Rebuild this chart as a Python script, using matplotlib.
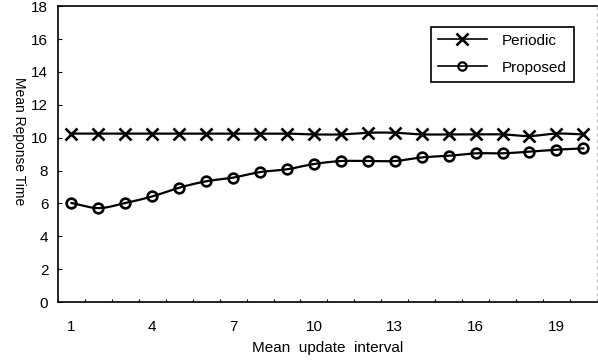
""" Mean response time versus mean update interval
"""
import matplotlib
matplotlib.use("Agg")
import matplotlib.pyplot as plt
from matplotlib.lines import Line2D
import numpy as np

plt.rcParams["font.family"] = ["Liberation Sans", "DejaVu Sans"]

update_interval = list(range(1, 21))
periodic = [10.25, 10.25, 10.25, 10.25, 10.25, 10.25, 10.25, 10.25, 10.25, 10.2,
            10.2, 10.3, 10.3, 10.2, 10.2, 10.2, 10.2, 10.1, 10.25, 10.2]
proposed = [6.03, 5.72, 6.03, 6.43, 6.96, 7.35, 7.57, 7.91, 8.08, 8.4,
            8.58, 8.58, 8.58, 8.8, 8.9, 9.05, 9.05, 9.15, 9.27, 9.35]
x_ticks = [1, 4, 7, 10, 13, 16, 19]
y_ticks = list(range(0, 19, 2))


def smooth(x, y, n=20):
	""" Courbe lissée (Catmull-Rom) passant par les points
	"""
	x = np.asarray(x, dtype=float)
	y = np.asarray(y, dtype=float)
	px = np.concatenate([[2 * x[0] - x[1]], x, [2 * x[-1] - x[-2]]])
	py = np.concatenate([[2 * y[0] - y[1]], y, [2 * y[-1] - y[-2]]])
	t = np.linspace(0, 1, n, endpoint=False)
	xs, ys = [], []
	for i in range(1, len(px) - 2):
		for p, out in ((px, xs), (py, ys)):
			p0, p1, p2, p3 = p[i - 1], p[i], p[i + 1], p[i + 2]
			out.extend(0.5 * (2 * p1 + (-p0 + p2) * t
							+ (2 * p0 - 5 * p1 + 4 * p2 - p3) * t ** 2
							+ (-p0 + 3 * p1 - 3 * p2 + p3) * t ** 3))
	xs.append(x[-1])
	ys.append(y[-1])
	return np.array(xs), np.array(ys)


fig = plt.figure(figsize=(5.98, 3.61), dpi=100)
ax = fig.add_axes([0.097, 0.163, 0.901, 0.82])

for values, marker in ((periodic, "x"), (proposed, "o")):
	sx, sy = smooth(update_interval, values)
	ax.plot(sx, sy, color="black", linewidth=1.6)
	ax.plot(update_interval, values, linestyle="none", marker=marker,
			markersize=9 if marker == "x" else 7, markeredgewidth=1.9,
			markerfacecolor="none", markeredgecolor="black")

ax.set_xlim(0.5, 20.45)
ax.set_ylim(0, 18)
ax.set_xticks(x_ticks)
ax.set_xticks(np.arange(0.5, 21, 1), minor=True)
ax.set_yticks(y_ticks)
ax.tick_params(axis="x", which="major", length=0, pad=13, labelsize=11)
ax.tick_params(axis="x", which="minor", direction="in", length=2.5, width=0.8)
ax.tick_params(axis="y", direction="in", length=3, width=0.8, pad=7, labelsize=11)

for side in ("left", "bottom", "top"):
	ax.spines[side].set_linewidth(1.2)
ax.spines["right"].set_color("#bbbbbb")
ax.spines["right"].set_linestyle((0, (2, 4)))
ax.spines["right"].set_linewidth(0.8)

ax.set_xlabel("Mean  update  interval", fontsize=11, labelpad=5)
ax.set_ylabel("Mean Reponse Time", fontsize=10, rotation=270)
ax.yaxis.set_label_coords(-0.085, 0.545)

handles = [
	Line2D([], [], color="black", linewidth=1.2, marker="x", markersize=8,
		   markeredgewidth=1.9),
	Line2D([], [], color="black", linewidth=1.2, marker="o", markersize=6,
		   markeredgewidth=1.6, markerfacecolor="none"),
]
leg = ax.legend(handles, ["Periodic", "Proposed"], loc="upper left",
				bbox_to_anchor=(0.692, 0.93), fontsize=11, frameon=True,
				fancybox=False, edgecolor="black", framealpha=1,
				handlelength=3.2, handletextpad=1.0, labelspacing=0.85,
				borderpad=0.45, borderaxespad=0)
leg.get_frame().set_linewidth(1.2)

fig.savefig("out.png", dpi=100)
